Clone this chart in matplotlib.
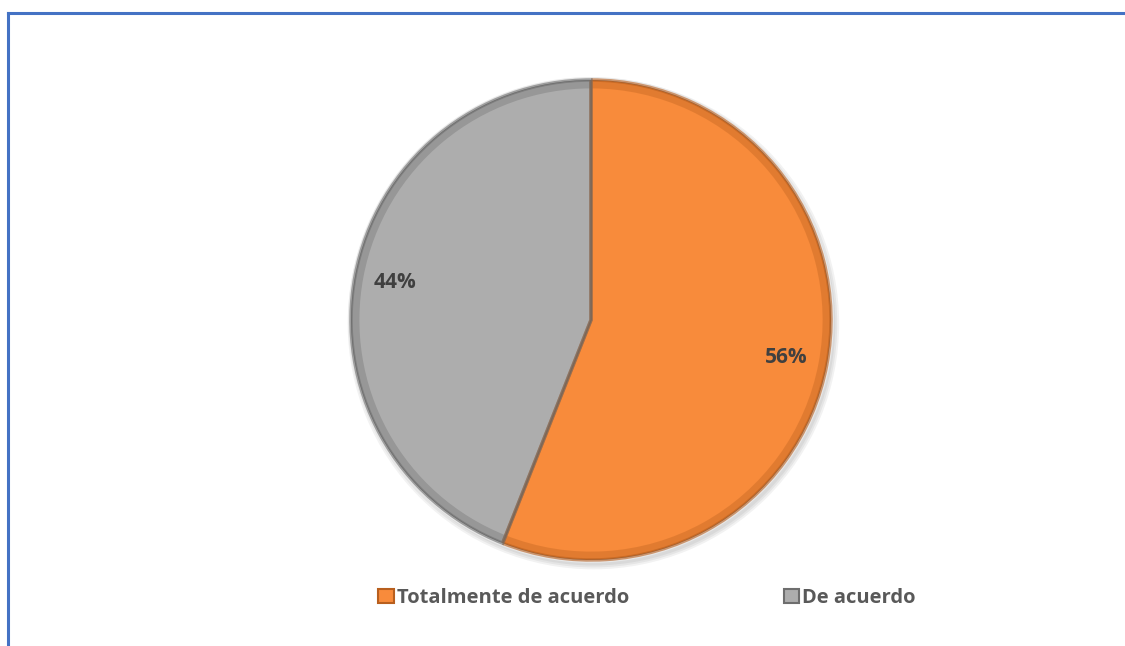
import matplotlib.pyplot as plt
from matplotlib.patches import Wedge, Rectangle
from matplotlib.lines import Line2D

# survey answers
categorias = ['Totalmente de acuerdo', 'De acuerdo']
porcentajes = [56, 44]
colores = ['#F88B3B', '#ADADAD']
bordes = ['#B85F1E', '#6E6E6E']

plt.rcParams['font.family'] = ['Open Sans', 'DejaVu Sans']

fig = plt.figure(figsize=(11.25, 6.46), dpi=100)

# blue frame along top and left
fig.add_artist(Line2D([8 / 1125, 1], [1 - 13 / 646, 1 - 13 / 646],
                      transform=fig.transFigure, color='#4472C4', lw=2.2))
fig.add_artist(Line2D([8 / 1125, 8 / 1125], [0, 1 - 13 / 646],
                      transform=fig.transFigure, color='#4472C4', lw=2.2))

# pie of radius 240 px centred at (591, 320) px, with a little room for the shadow
lim = 1.05
ax = fig.add_axes([(591 - 240 * lim) / 1125, (326 - 240 * lim) / 646,
                   480 * lim / 1125, 480 * lim / 646])

# soft shadow under the pie
for i in range(3):
    ax.add_patch(Wedge((0.01, -0.015), 1.0 + 0.008 * (i + 1), 0, 360,
                       color='black', alpha=0.05, lw=0))

wedges, texts, autotexts = ax.pie(
    porcentajes, colors=colores, startangle=90, counterclock=False,
    radius=1.0, autopct='%d%%', pctdistance=0.83,
    wedgeprops=dict(edgecolor='#555555', linewidth=0.8),
    textprops=dict(color='#404040', fontsize=15, fontweight='bold'))

# bevel: darker rim inside each slice and a light highlight on the outer edge
for w, b in zip(wedges, bordes):
    ax.add_patch(Wedge(w.center, w.r, w.theta1, w.theta2, width=0.035,
                       facecolor=b, alpha=0.35, lw=0))
    ax.add_patch(Wedge(w.center, w.r + 0.012, w.theta1, w.theta2, width=0.012,
                       facecolor='#E8E8E8', lw=0))
    ax.add_patch(Wedge(w.center, w.r, w.theta1, w.theta2, fill=False,
                       edgecolor=b, lw=2.5, alpha=0.6))

ax.set_xlim(-lim, lim)
ax.set_ylim(-lim, lim)
ax.set_aspect('equal')
ax.axis('off')

handles = [Rectangle((0, 0), 1, 1, facecolor=c, edgecolor=b, lw=1.5)
           for c, b in zip(colores, bordes)]
fig.legend(handles, categorias, loc='center', bbox_to_anchor=(647 / 1125, 1 - 598 / 646),
           ncol=2, frameon=False, handlelength=0.75, handleheight=0.75,
           handletextpad=0.15, columnspacing=7.7,
           prop=dict(size=14.5, weight='bold'), labelcolor='#595959')

fig.savefig('out.png', dpi=100)
